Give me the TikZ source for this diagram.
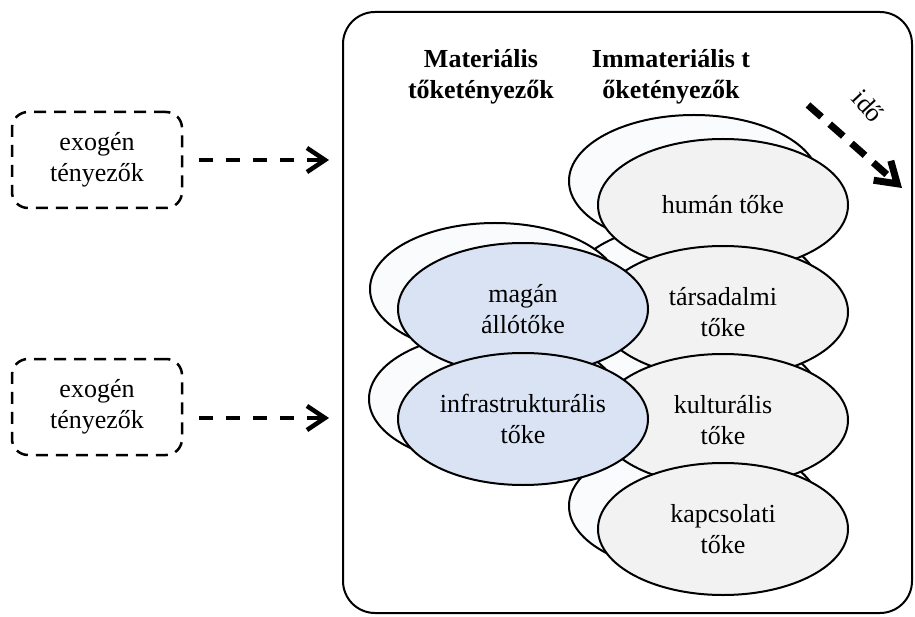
\documentclass[tikz,border=0pt]{standalone}
\usepackage{fontspec}
\setmainfont{Liberation Serif}
\usetikzlibrary{shapes.geometric,arrows.meta}
\definecolor{bluef}{HTML}{DAE3F3}
\definecolor{greyf}{HTML}{F2F2F2}
\definecolor{backf}{HTML}{FAFBFC}
\begin{document}
\begin{tikzpicture}[x=1pt,y=-1pt,
  txt/.style={font=\fontsize{26}{31}\selectfont, align=center},
  head/.style={font=\fontsize{26}{31}\selectfont\bfseries, align=center},
  ell/.style={ellipse, draw, line width=2pt, minimum width=250pt, minimum height=132pt, inner sep=0pt, txt},
  backel/.style={ell, fill=backf},
  matf/.style={ell, fill=bluef},
  immf/.style={ell, fill=greyf},
  exo/.style={draw, dash pattern=on 12pt off 8pt, line width=2.5pt, rounded corners=16pt, minimum width=170pt, minimum height=96pt, txt},
  frame/.style={draw, line width=2pt, rounded corners=32pt, minimum width=569pt, minimum height=601pt},
  flow/.style={line width=4.5pt, dash pattern=on 14pt off 13pt, -{Straight Barb[length=18pt,width=24pt]}},
  timeflow/.style={line width=7pt, dash pattern=on 18pt off 11pt, -{Straight Barb[length=20pt,width=26pt]}}
]
\useasboundingbox (0,0) rectangle (915,617);
\fill[white] (0,0) rectangle (915,617);
% container
\node[frame] (box) at (627.5,312.5) {};
% headings
\node[head] (mat) at (481,77) {Materiális\\tőketényezők};
\node[head] (imm) at (671,77) {Immateriális t\\őketényezők};
% back ellipses
\node[backel] (hb)  at (694,181) {};
\node[backel] (tb)  at (694,289) {};
\node[backel] (kb)  at (694,397) {};
\node[backel] (kpb) at (694,506) {};
\node[backel] (mb)  at (495,289) {};
\node[backel] (ib)  at (494,399) {};
% front ellipses
\node[immf] (hum)  at (723,205) {humán tőke};
\node[immf] (tars) at (723,312) {társadalmi\\tőke};
\node[immf] (kult) at (723,420) {kulturális\\tőke};
\node[immf] (kap)  at (723,529) {kapcsolati\\tőke};
\node[matf] (mag)  at (523,309) {magán\\állótőke};
\node[matf] (inf)  at (523,419) {infrastrukturális\\tőke};
% exogenous boxes
\node[exo] (ex1) at (97,160) {exogén\\tényezők};
\node[exo] (ex2) at (97,407) {exogén\\tényezők};
\draw[flow, shorten <=16pt, shorten >=13pt] (ex1.east) -- (ex1.east -| box.west);
\draw[flow, shorten <=16pt, shorten >=13pt] ([yshift=-11pt]ex2.east) -- ([yshift=-11pt]ex2.east -| box.west);
% time arrow
\coordinate (t0) at (808,105);
\coordinate (t1) at (902,188);
\draw[timeflow] (t0) -- (t1);
\node[txt, rotate=-47] (ido) at (868,106) {idő};
\end{tikzpicture}
\end{document}
